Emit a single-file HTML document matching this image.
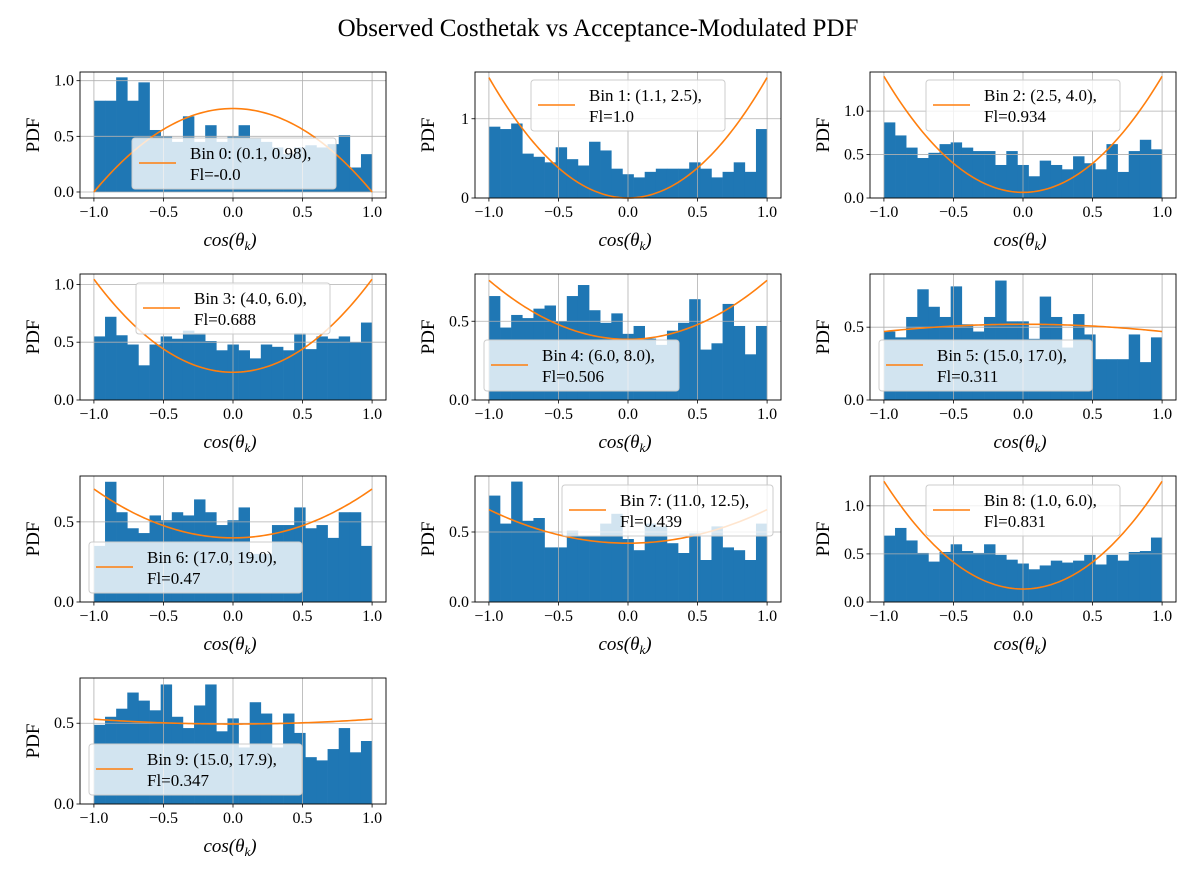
<!DOCTYPE html>
<html><head><meta charset="utf-8"><style>
body{margin:0;background:#fff}
svg{display:block;font-family:"Liberation Serif","DejaVu Serif",serif}
</style></head><body>
<svg id="fig" width="1200" height="880" viewBox="0 0 1200 880" xmlns="http://www.w3.org/2000/svg">
<rect width="1200" height="880" fill="#fff"/>
<text x="598" y="36" font-size="25" text-anchor="middle">Observed Costhetak vs Acceptance-Modulated PDF</text>
</svg>
<script>
const panelLabels=["Bin 0: (0.1, 0.98),","Bin 1: (1.1, 2.5),","Bin 2: (2.5, 4.0),","Bin 3: (4.0, 6.0),","Bin 4: (6.0, 8.0),","Bin 5: (15.0, 17.0),","Bin 6: (17.0, 19.0),","Bin 7: (11.0, 12.5),","Bin 8: (1.0, 6.0),","Bin 9: (15.0, 17.9),"];
const flLabels=["Fl=-0.0","Fl=1.0","Fl=0.934","Fl=0.688","Fl=0.506","Fl=0.311","Fl=0.47","Fl=0.439","Fl=0.831","Fl=0.347"];
const hist0=[0.82,0.82,1.03,0.82,0.985,0.557,0.5,0.45,0.68,0.45,0.60,0.45,0.5,0.60,0.48,0.45,0.4,0.34,0.4,0.42,0.4,0.43,0.51,0.22,0.34];
const hist1=[0.90,0.87,0.94,0.56,0.52,0.45,0.64,0.49,0.41,0.71,0.60,0.37,0.30,0.26,0.33,0.37,0.37,0.37,0.45,0.37,0.26,0.33,0.45,0.33,0.87];
const hist2=[0.87,0.72,0.58,0.46,0.52,0.62,0.64,0.58,0.54,0.54,0.38,0.54,0.38,0.25,0.43,0.38,0.33,0.48,0.40,0.33,0.62,0.30,0.54,0.67,0.56];
const hist3=[0.55,0.72,0.56,0.48,0.30,0.48,0.55,0.53,0.60,0.58,0.51,0.43,0.48,0.43,0.36,0.48,0.46,0.43,0.58,0.44,0.55,0.53,0.55,0.50,0.67];
const hist4=[0.66,0.46,0.54,0.52,0.58,0.60,0.50,0.66,0.73,0.57,0.49,0.55,0.42,0.47,0.39,0.35,0.44,0.49,0.64,0.32,0.36,0.61,0.47,0.29,0.47];
const hist5=[0.47,0.43,0.57,0.76,0.64,0.57,0.78,0.52,0.47,0.57,0.82,0.54,0.54,0.42,0.71,0.57,0.36,0.59,0.45,0.28,0.28,0.28,0.45,0.26,0.43];
const hist6=[0.35,0.75,0.56,0.46,0.43,0.54,0.51,0.56,0.54,0.64,0.56,0.48,0.51,0.59,0.30,0.30,0.48,0.48,0.59,0.46,0.48,0.40,0.56,0.56,0.35];
const hist7=[0.76,0.56,0.86,0.58,0.60,0.39,0.39,0.51,0.47,0.47,0.56,0.63,0.45,0.37,0.56,0.54,0.42,0.35,0.49,0.30,0.54,0.39,0.37,0.30,0.56];
const hist8=[0.69,0.77,0.64,0.51,0.42,0.52,0.60,0.53,0.51,0.60,0.49,0.44,0.40,0.34,0.38,0.43,0.41,0.43,0.49,0.39,0.49,0.43,0.52,0.53,0.67];
const hist9=[0.49,0.54,0.59,0.69,0.64,0.58,0.74,0.54,0.47,0.61,0.74,0.45,0.53,0.35,0.63,0.56,0.35,0.56,0.44,0.29,0.27,0.34,0.47,0.32,0.39];
const hists=[hist0,hist1,hist2,hist3,hist4,hist5,hist6,hist7,hist8,hist9];
const curveCenter=[0.75,0.0,0.065,0.24,0.385,0.52,0.40,0.42,0.135,0.495];
const curveEdge=[0.0,1.52,1.40,1.045,0.76,0.47,0.705,0.66,1.255,0.525];
const yTop=[1.078,1.59,1.45,1.09,0.80,0.865,0.786,0.90,1.31,0.78];
const yBottom=[-0.054,0,0,0,0,0,0,0,0,0];
const yTicks=[[0,0.5,1.0],[0,1],[0,0.5,1.0],[0,0.5,1.0],[0,0.5],[0,0.5],[0,0.5],[0,0.5],[0,0.5,1.0],[0,0.5]];
const yTickLabels=[["0.0","0.5","1.0"],["0","1"],["0.0","0.5","1.0"],["0.0","0.5","1.0"],["0.0","0.5"],["0.0","0.5"],["0.0","0.5"],["0.0","0.5"],["0.0","0.5","1.0"],["0.0","0.5"]];
const xTicks=[-1,-0.5,0,0.5,1];
const xTickLabels=["\u22121.0","\u22120.5","0.0","0.5","1.0"];
const legendPos=[[52,66,204],[56,8,194],[56,8,194],[56,9,194],[9,66,195],[9,66,213],[9,66,213],[87,9,211],[56,9,194],[9,66,213]];

const NS="http://www.w3.org/2000/svg";
const svg=document.getElementById('fig');
function mk(tag,attrs,parent){const e=document.createElementNS(NS,tag);for(const k in attrs)e.setAttribute(k,attrs[k]);(parent||svg).appendChild(e);return e;}
const colX=[80,475,870],rowY=[72,274,476,678],W=306,H=126;

for(let p=0;p<10;p++){
  const L=colX[p%3],T=rowY[Math.floor(p/3)];
  const g=mk('g',{});
  
  
  const sx=x=>L+(x+1.1)/2.2*W;
  const sy=y=>T+H-(y-yBottom[p])/(yTop[p]-yBottom[p])*H;
  const h=hists[p],n=h.length;
  for(let i=0;i<n;i++){
    const x0=-1+2*i/n,x1=-1+2*(i+1)/n;
    const r=mk('rect',{x:sx(x0),y:sy(h[i]),width:sx(x1)-sx(x0)+0.3,height:sy(0)-sy(h[i]),fill:'#1f77b4'},g);
    
    
  }
  xTicks.forEach((t,i)=>{
    const gl=mk('line',{x1:sx(t),x2:sx(t),y1:T,y2:T+H,stroke:'#b0b0b0','stroke-width':0.8},g);
    
    
    mk('line',{x1:sx(t),x2:sx(t),y1:T+H,y2:T+H+3.5,stroke:'#000','stroke-width':0.8},g);
    const tl=mk('text',{x:sx(t),y:T+H+19,'font-size':16,'text-anchor':'middle'},g);
    tl.textContent=xTickLabels[i];
    
    
  });
  yTicks[p].forEach((t,i)=>{
    const gl=mk('line',{x1:L,x2:L+W,y1:sy(t),y2:sy(t),stroke:'#b0b0b0','stroke-width':0.8},g);
    
    
    mk('line',{x1:L-3.5,x2:L,y1:sy(t),y2:sy(t),stroke:'#000','stroke-width':0.8},g);
    const tl=mk('text',{x:L-6,y:sy(t)+5,'font-size':16,'text-anchor':'end'},g);
    tl.textContent=yTickLabels[p][i];
    
    
  });
  let d='';
  for(let k=0;k<=100;k++){const x=-1+2*k/100;const y=curveCenter[p]+(curveEdge[p]-curveCenter[p])*x*x;d+=(k?'L':'M')+sx(x).toFixed(2)+','+sy(y).toFixed(2);}
  const c=mk('path',{d:d,fill:'none',stroke:'#ff7f0e','stroke-width':1.6},g);
  
  
  mk('rect',{x:L,y:T,width:W,height:H,fill:'none',stroke:'#000','stroke-width':0.9},g);
  const xl=mk('text',{x:L+W/2-3,y:T+H+48,'font-size':19,'text-anchor':'middle','font-style':'italic'},g);
  
  
  xl.innerHTML='cos(θ<tspan font-size="13" dy="4">k</tspan><tspan dy="-4">)</tspan>';
  const yl=mk('text',{x:0,y:0,'font-size':19,'text-anchor':'middle',transform:`translate(${L-41},${T+H/2}) rotate(-90)`},g);
  yl.textContent='PDF';
  
  
  const [lx,ly,lw]=legendPos[p];
  const lg=mk('g',{},g);
  
  
  mk('rect',{x:L+lx,y:T+ly,width:lw,height:51,rx:3,fill:'rgba(255,255,255,0.8)',stroke:'#cccccc','stroke-width':1},lg);
  const ll=mk('line',{x1:L+lx+7,x2:L+lx+44,y1:T+ly+25,y2:T+ly+25,stroke:'#ff7f0e','stroke-width':1.6},lg);
  
  
  const t1=mk('text',{x:L+lx+58,y:T+ly+21,'font-size':17},lg);
  t1.textContent=panelLabels[p];
  
  
  const t2=mk('text',{x:L+lx+58,y:T+ly+42,'font-size':17},lg);
  t2.textContent=flLabels[p];
  
  
}
</script>
</body></html>
